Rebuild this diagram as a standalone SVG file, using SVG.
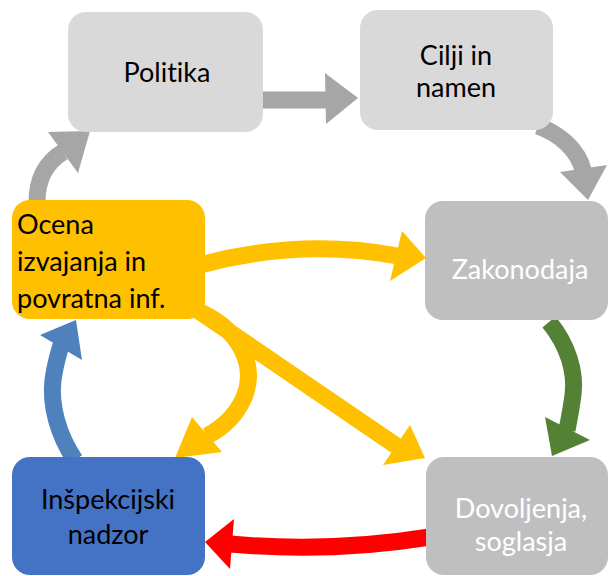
<svg xmlns="http://www.w3.org/2000/svg" width="608" height="576" viewBox="0 0 608 576">
<style>
.box{stroke:none}
.lt{fill:#d9d9d9}
.md{fill:#bfbfbf}
.yl{fill:#ffc000}
.bl{fill:#4472c4}
text{font-family:Lato,"Liberation Sans",sans-serif;font-size:27px;font-variant-ligatures:none}
.dk{fill:#000}
.wt{fill:#fff}
.c{text-anchor:middle}
.sh{fill:none;stroke-width:17}
.g{stroke:#a6a6a6}.gf{fill:#a6a6a6}
.y{stroke:#ffc000}.yf{fill:#ffc000}
.b{stroke:#4f81bd}.bf{fill:#4f81bd}
.gr{stroke:#548235}.grf{fill:#548235}
.r{stroke:#ff0000}.rf{fill:#ff0000}
</style>
<g id="connectors">
  <path class="sh g" d="M262,100 L327,100"/>
  <polygon class="gf" points="325,73 358,98 326,124"/>
  <path class="sh g" d="M538,126 C560,134 578,150 583,170"/>
  <polygon class="gf" points="560,172 607,165 588,200"/>
  <path class="sh g" d="M37,202 C37,180 45,163 63,152"/>
  <polygon class="gf" points="48,132 90,131 78,173"/>
  <path class="sh y" d="M200,265 Q300,238 398,256"/>
  <polygon class="yf" points="402,231 426,258 390,281"/>
  <path class="sh y" d="M190,305 L398,447"/>
  <polygon class="yf" points="410,425 425,458 383,465"/>
  <path class="sh y" d="M200,312 C240,330 256,365 245,395 C238,413 224,427 207,436"/>
  <polygon class="yf" points="192,417 175,458 222,452"/>
  <path class="sh gr" d="M549,322 C568,345 576,372 573,395 C571,410 569,420 567,430"/>
  <polygon class="grf" points="545,417 590,440 552,456"/>
  <path class="sh b" d="M75,460 C58,435 50,405 53,380 C55,365 58,355 61,345"/>
  <polygon class="bf" points="40,335 76,320 82,360"/>
  <path class="sh r" d="M430,537 Q330,553 230,544"/>
  <polygon class="rf" points="234,519 205,542 230,569"/>
</g>
<g id="politika">
  <rect class="box lt" x="68" y="12" width="195" height="120" rx="18"/>
  <text class="dk c" x="167" y="82">Politika</text>
</g>
<g id="cilji">
  <rect class="box lt" x="360" y="10" width="193" height="120" rx="18"/>
  <text class="dk c" x="456" y="65">Cilji in</text>
  <text class="dk c" x="456" y="97">namen</text>
</g>
<g id="zakonodaja">
  <rect class="box md" x="425" y="201" width="183" height="119" rx="18"/>
  <text class="wt c" x="520" y="279">Zakonodaja</text>
</g>
<g id="ocena">
  <rect class="box yl" x="12" y="200" width="193" height="119" rx="18"/>
  <text class="dk" x="17" y="234">Ocena</text>
  <text class="dk" x="17" y="271">izvajanja in</text>
  <text class="dk" x="17" y="308">povratna inf.</text>
</g>
<g id="inspekcijski">
  <rect class="box bl" x="12" y="457" width="193" height="118" rx="18"/>
  <text class="dk c" x="108" y="509">Inšpekcijski</text>
  <text class="dk c" x="108" y="544">nadzor</text>
</g>
<g id="dovoljenja">
  <rect class="box md" x="426" y="457" width="182" height="118" rx="18"/>
  <text class="wt c" x="521" y="518">Dovoljenja,</text>
  <text class="wt c" x="521" y="551">soglasja</text>
</g>
</svg>
